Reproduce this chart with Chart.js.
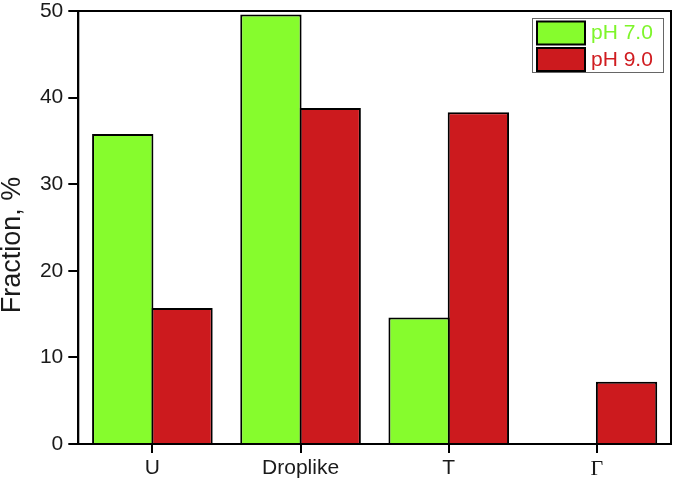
<!DOCTYPE html>
<html>
<head>
<meta charset="utf-8">
<script src="https://cdn.jsdelivr.net/npm/chart.js@4/dist/chart.umd.min.js"></script>
<style>
html,body{margin:0;padding:0;background:#fff;}
#wrap{width:674px;height:482px;}
</style>
</head>
<body>
<div id="wrap"><canvas id="c" width="674" height="482"></canvas></div>
<script>
const categories = ['U', 'Droplike', 'T', 'Γ'];
const ph7Values = [35.8, 49.6, 14.6, 0];
const ph9Values = [15.7, 38.8, 38.3, 7.2];
const seriesLabels = ['pH 7.0', 'pH 9.0'];
const yTickValues = [0, 10, 20, 30, 40, 50];
const yTitle = 'Fraction, %';

const fillColors = ['#86FC2D', '#CC1A1E'];
const textColors = ['#7EF52A', '#D01C20'];

const frame = {
  id: 'frame',
  afterDatasetsDraw(chart) {
    const {ctx, chartArea: a} = chart;
    ctx.save();
    ctx.strokeStyle = '#000';
    ctx.lineWidth = 2;
    ctx.strokeRect(a.left, a.top, a.right - a.left, a.bottom - a.top);
    ctx.restore();
  }
};

const legendBox = {
  id: 'legendBox',
  afterDraw(chart) {
    const ctx = chart.ctx;
    ctx.save();
    ctx.strokeStyle = '#666';
    ctx.lineWidth = 1;
    ctx.strokeRect(532.5, 18.5, 131, 54);
    chart.data.datasets.forEach((ds, i) => {
      const y = 21.5 + i * 26.5;
      ctx.fillStyle = ds.backgroundColor;
      ctx.fillRect(537, y, 48, 23);
      ctx.strokeStyle = '#000';
      ctx.lineWidth = 2;
      ctx.strokeRect(537, y, 48, 23);
      ctx.fillStyle = textColors[i];
      ctx.font = '21px "Liberation Sans", Arial, sans-serif';
      ctx.textBaseline = 'middle';
      ctx.textAlign = 'left';
      ctx.fillText(ds.label, 591, y + 12);
    });
    ctx.restore();
  }
};

const yTitlePlugin = {
  id: 'yTitlePlugin',
  afterDraw(chart) {
    const ctx = chart.ctx;
    ctx.save();
    ctx.translate(13, 245);
    ctx.rotate(-Math.PI / 2);
    ctx.fillStyle = '#1a1a1a';
    ctx.font = '27px "Liberation Sans", Arial, sans-serif';
    ctx.textAlign = 'center';
    ctx.textBaseline = 'middle';
    ctx.fillText(yTitle, 0, 0);
    ctx.restore();
  }
};

new Chart(document.getElementById('c'), {
  type: 'bar',
  data: {
    labels: categories,
    datasets: [
      {label: seriesLabels[0], data: ph7Values, backgroundColor: fillColors[0], borderColor: '#000', borderWidth: 2, borderSkipped: 'start', inflateAmount: 0},
      {label: seriesLabels[1], data: ph9Values, backgroundColor: fillColors[1], borderColor: '#000', borderWidth: 2, borderSkipped: 'start', inflateAmount: 0}
    ]
  },
  options: {
    responsive: false,
    devicePixelRatio: 1,
    animation: false,
    layout: {padding: {top: 11, right: 3, left: 0, bottom: 0}},
    datasets: {bar: {categoryPercentage: 0.8, barPercentage: 1.035}},
    plugins: {legend: {display: false}, tooltip: {enabled: false}},
    scales: {
      x: {
        type: 'category',
        offset: true,
        grid: {offset: false, drawOnChartArea: false, drawTicks: true, tickLength: 9, color: '#000', lineWidth: 2},
        border: {display: true, color: '#000', width: 2},
        ticks: {
          padding: 3,
          color: '#1a1a1a',
          maxRotation: 0,
          font: (ctx) => ctx.index === 3
            ? {family: '"Liberation Serif", "Times New Roman", serif', size: 22}
            : {family: '"Liberation Sans", Arial, sans-serif', size: 21}
        },
        afterFit(s) { s.height = 38; s.paddingLeft = 0; s.paddingRight = 0; }
      },
      y: {
        min: 0,
        max: 50,
        afterBuildTicks(s) { s.ticks = yTickValues.map(v => ({value: v})); },
        grid: {drawOnChartArea: false, drawTicks: true, tickLength: 10, color: '#000', lineWidth: 2},
        border: {display: true, color: '#000', width: 2},
        ticks: {
          padding: 5,
          color: '#1a1a1a',
          font: {family: '"Liberation Sans", Arial, sans-serif', size: 21}
        },
        afterFit(s) { s.width = 78.3; s.paddingTop = 0; s.paddingBottom = 0; }
      }
    }
  },
  plugins: [frame, legendBox, yTitlePlugin]
});
</script>
</body>
</html>
